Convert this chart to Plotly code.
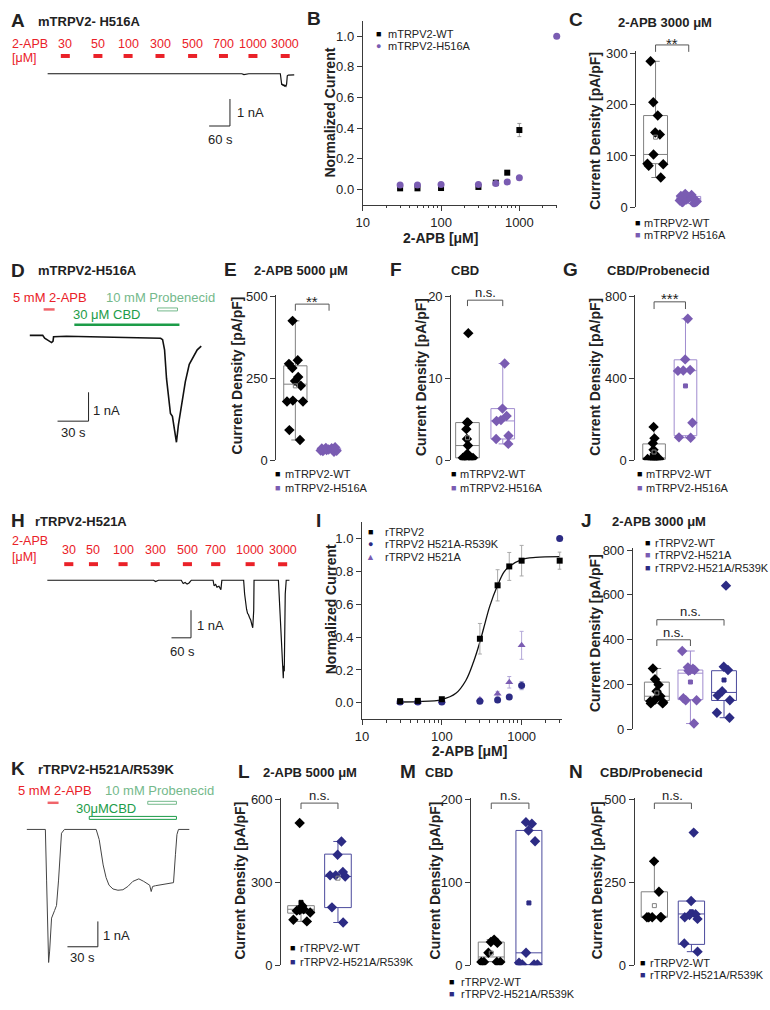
import numpy as np
import plotly.graph_objects as go

W, H = 770, 1010
FONT = "Arial, Liberation Sans, Helvetica, sans-serif"
RED = "#ea2128"
GREEN = "#1c9c48"
LGREEN = "#74b98b"
PURPLE = "#7a5cb2"
PURPLE_LINE = "#a08ccf"
NAVY = "#2c2b84"
NAVY_LINE = "#4b4a9c"
GRAY_LINE = "#808080"
AXIS = "#3a3a3a"
TXT = "#222222"

# ============================ DATA ============================
conc_labels = ["30", "50", "100", "300", "500", "700", "1000", "3000"]
conc_uM = [30, 50, 100, 300, 500, 700, 1000, 3000]
log_minor = [20, 30, 40, 50, 60, 70, 80, 90, 200, 300, 400, 500, 600, 700, 800, 900, 2000, 3000]

# A: mTRPV2-H516A whole-cell trace (time s, current nA)
A_time = [0, 560, 566, 572, 580, 671, 673, 675, 677, 679, 681, 683, 685, 687, 689, 691, 694, 711]
A_curr = [0, 0, -0.03, -0.02, 0, 0, -0.32, -0.42, -0.38, -0.45, -0.40, -0.48, -0.44, -0.47, -0.40, -0.08, -0.05, -0.04]
A_app_start = [38, 132, 219, 311, 405, 494, 579, 672]
A_app_dur = 26

# B: normalized concentration-response
B_wt = [0.008, 0.008, 0.01, 0.017, 0.045, 0.11, 0.388, None]
B_wt_err = [0.003, 0.003, 0.003, 0.004, 0.006, 0.012, 0.043, None]
B_mut = [0.03, 0.03, 0.033, 0.033, 0.04, 0.05, 0.077, 1.0]
B_mut_err = [0.003, 0.003, 0.003, 0.003, 0.004, 0.005, 0.006, 0.004]

# C: 2-APB 3000 uM current densities (pA/pF); box = [q1, median, q3, lower, upper]
C_wt = [285, 205, 179, 146, 142, 103, 85, 84, 81, 58]
C_wt_box = [85, 103, 179, 58, 285]
C_mut = [26, 24, 22, 20, 19, 18, 16, 15, 13, 11, 9, 7]
C_mut_box = [12, 17, 21, 7, 26]

# D: mTRPV2-H516A trace (s, nA) and applications (s)
D_time = [0, 12.5, 14.4, 16.3, 18.2, 20.1, 21.1, 22.5, 23.0, 35.5, 73.8, 112.2, 126.6, 128.5, 130.4,
          132.3, 134.2, 136.1, 138.0, 140.0, 141.9, 143.8, 146.6, 150.5, 154.3, 158.2, 162.0, 165.9]
D_curr = [0, 0, -0.1, -0.15, -0.2, -0.22, -0.25, -0.2, -0.05, -0.03, -0.05, -0.07, -0.1, -0.15, -0.5,
          -1.5, -2.2, -2.7, -2.8, -3.2, -3.7, -3.1, -2.5, -1.6, -1.0, -0.75, -0.5, -0.37]
D_apb = [13.4, 24.0]
D_cbd = [43.1, 144.8]
D_prob = [123.7, 142.9]

# E: 2-APB 5000 uM
E_wt = [425, 305, 294, 281, 254, 242, 227, 179, 179, 182, 92, 62]
E_wt_box = [182, 232, 288, 62, 425]
E_mut = [40, 38, 37, 36, 35, 34, 33, 32, 31, 30, 29, 28, 26]
E_mut_box = [29, 33, 37, 26, 40]

# F: CBD
F_wt = [15.5, 4.6, 4.6, 3.8, 2.6, 1.8, 0.8, 0.5, 0.3, 0.3, 0.3, 0.3, 0.3]
F_wt_box = [0.3, 1.8, 4.6, 0.3, 4.6]
F_mut = [11.8, 6.3, 5.4, 4.9, 4.8, 3.0, 2.6, 2.0]
F_mut_box = [2.6, 4.8, 6.3, 2.0, 11.8]

# G: CBD/Probenecid
G_wt = [163, 107, 83, 51, 31, 7, 7, 7, 7, 7, 7, 7]
G_wt_box = [5, 12, 80, 5, 163]
G_mut = [690, 492, 440, 438, 436, 183, 112, 110]
G_mut_box = [120, 437, 490, 110, 690]

# H: rTRPV2-H521A trace (s, nA)
H_time = [0, 327, 333, 342, 412, 418, 424, 430, 436, 440, 443, 510, 513, 518, 522, 528, 534, 537,
          604, 607, 610, 613, 616, 619, 622, 626, 629, 632, 635, 636,
          711, 714, 717, 720, 723, 725, 726, 727, 729, 732, 735, 745]
H_curr = [0, 0, -0.05, 0, 0, -0.12, -0.08, -0.14, -0.1, -0.05, 0, 0, -0.2, -0.15, -0.25, -0.22, -0.34, 0,
          0, -0.5, -0.9, -1.05, -1.2, -1.25, -1.35, -1.45, -1.6, -1.72, -1.1, 0,
          0, -0.7, -1.5, -2.2, -2.6, -3.0, -3.55, -3.1, -3.3, -0.5, 0, 0]
H_app_start = [52, 128, 219, 318, 417, 504, 610, 710]
H_app_dur = 28

# I: normalized concentration-response (rat)
I_wt = [0.01, 0.012, 0.022, 0.39, 0.715, 0.83, 0.865, 0.865]
I_wt_err = [0.005, 0.005, 0.005, 0.093, 0.095, 0.085, 0.093, 0.052]
I_rk = [0.005, 0.005, 0.005, 0.01, 0.018, 0.035, 0.105, 1.0]
I_rk_err = [0.003, 0.003, 0.003, 0.004, 0.005, 0.006, 0.025, 0.01]
I_ha = [0.005, 0.005, 0.01, 0.02, 0.055, 0.125, 0.35, None]
I_ha_err = [0.003, 0.003, 0.004, 0.01, 0.015, 0.035, 0.085, None]
I_fit_conc = [30, 50, 100, 150, 200, 250, 300, 350, 400, 500, 600, 700, 1000, 1500, 3000]
I_fit_val = [0.005, 0.007, 0.02, 0.058, 0.136, 0.25, 0.37, 0.49, 0.59, 0.715, 0.795, 0.83, 0.872, 0.885, 0.89]

# J: 2-APB 3000 uM (rat)
J_wt = [271, 223, 198, 169, 147, 132, 125, 120, 115, 115]
J_wt_box = [128, 147, 210, 115, 271]
J_h = [349, 276, 270, 264, 264, 261, 138, 129, 129, 25]
J_h_box = [132, 250, 264, 25, 349]
J_r = [641, 279, 264, 169, 150, 129, 73, 51]
J_r_box = [128, 164, 261, 51, 279]

# K: rTRPV2-H521A/R539K trace (s, nA)
K_time = [0, 18.3, 19.5, 20.5, 21.5, 22.5, 24.4, 27.4, 29.3, 31.3, 33.2, 34.2, 37.1, 68.4, 71.4, 75.3,
          78.2, 81.1, 85.0, 89.9, 94.8, 99.7, 104.6, 110.5, 115.3, 121.2, 122.7, 124.1, 127.0, 136.9,
          144.7, 146.6, 148.1, 149.6, 160.3]
K_curr = [0, 0, -2.0, -4.0, -5.25, -4.8, -3.5, -3.2, -3.0, -2.0, -0.5, -0.15, 0, 0, -0.4, -1.4,
          -1.9, -2.2, -2.35, -2.4, -2.38, -2.25, -2.05, -1.95, -2.05, -2.2, -2.45, -2.25, -2.22, -2.15,
          -2.1, -1.0, -0.2, 0, 0]
K_apb = [20.5, 31.3]
K_cbd = [61.6, 147.6]
K_prob = [119.3, 147.6]

# L: 2-APB 5000 uM (rat)
L_wt = [516, 215, 206, 203, 200, 198, 191, 165, 159]
L_wt_box = [189, 203, 216, 159, 216]
L_r = [449, 401, 338, 326, 326, 322, 210, 155]
L_r_box = [209, 322, 403, 155, 449]

# M: CBD (rat)
M_wt = [31, 28, 27, 15, 4, 4, 4, 4]
M_wt_box = [4.4, 10, 28, 4.4, 31]
M_r = [173, 171, 163, 150, 15, 3, 1, 1, 1]
M_r_box = [0.5, 15, 163, 0.5, 173]

# N: CBD/Probenecid (rat)
N_wt = [314, 222, 145, 145, 145, 145, 145]
N_wt_box = [145, 145, 222, 145, 314]
N_r = [401, 194, 154, 152, 145, 140, 66, 41]
N_r_box = [63, 155, 194, 41, 194]

# ============================ FIGURE ============================
fig = go.Figure()
layout = dict(width=W, height=H, autosize=False, margin=dict(l=0, r=0, t=0, b=0),
              paper_bgcolor="white", plot_bgcolor="white", showlegend=False,
              font=dict(family=FONT, size=13, color=TXT))
shapes = []
annotations = []


def fx(x):
    return x / W


def fy(y):
    return 1 - y / H


def k_(n):
    return "" if n == 1 else str(n)


def txt(s, x, y, size=13, color=TXT, bold=False, xanchor="left", angle=0, xref="paper"):
    annotations.append(dict(text=f"<b>{s}</b>" if bold else s,
                            x=fx(x) if xref == "paper" else x, y=fy(y),
                            xref=xref, yref="paper", xanchor=xanchor, yanchor="middle",
                            showarrow=False, textangle=angle, borderpad=0,
                            font=dict(size=size, color=color, family=FONT)))


def pline(x0, y0, x1, y1, color=AXIS, width=1):
    shapes.append(dict(type="line", xref="paper", yref="paper", x0=fx(x0), y0=fy(y0),
                       x1=fx(x1), y1=fy(y1), line=dict(color=color, width=width)))


def trace_axes(n, box, t0px, i0px, px_per_s, px_per_nA):
    l, r, t, b = box
    xr = [(l - t0px) / px_per_s, (r - t0px) / px_per_s]
    yr = [(i0px - b) / px_per_nA, (i0px - t) / px_per_nA]
    layout["xaxis" + k_(n)] = dict(domain=[fx(l), fx(r)], range=xr, visible=False,
                                   anchor="y" + k_(n), fixedrange=True)
    layout["yaxis" + k_(n)] = dict(domain=[fy(b), fy(t)], range=yr, visible=False,
                                   anchor="x" + k_(n), fixedrange=True)


def yaxis_style(**kw):
    d = dict(showline=True, linecolor=AXIS, linewidth=1, ticks="outside", ticklen=5,
             tickwidth=1, tickcolor=AXIS, showgrid=False, zeroline=False,
             tickfont=dict(size=13, color=TXT, family=FONT), fixedrange=True)
    d.update(kw)
    return d


def log_xaxis(l, r, rng, anchor):
    return dict(domain=[fx(l), fx(r)], type="log", range=rng, anchor=anchor,
                showline=True, linecolor=AXIS, linewidth=1, ticks="outside", ticklen=5,
                tickcolor=AXIS, tickvals=[10, 100, 1000], ticktext=["10", "100", "1000"],
                tickfont=dict(size=13, color=TXT, family=FONT), showgrid=False,
                zeroline=False, fixedrange=True,
                minor=dict(tickmode="array", tickvals=log_minor, ticks="outside", ticklen=2.5,
                           tickcolor=AXIS, showgrid=False))


def box_axes(n, left, c0, unit, right, y0px, ppu, ymax, tickvals):
    top = y0px - ppu * ymax
    layout["xaxis" + k_(n)] = dict(domain=[fx(left), fx(right)],
                                   range=[(left - c0) / unit, (right - c0) / unit],
                                   visible=False, anchor="y" + k_(n), fixedrange=True)
    layout["yaxis" + k_(n)] = yaxis_style(domain=[fy(y0px), fy(top)], range=[0, ymax],
                                          tickvals=tickvals, anchor="x" + k_(n))


def add_group(n, k, vals, stats, pt_color, line_color, bw, mean_open=False):
    xa, ya = "x" + k_(n), "y" + k_(n)
    fig.add_trace(go.Box(x=[k], q1=[stats[0]], median=[stats[1]], q3=[stats[2]],
                         lowerfence=[stats[3]], upperfence=[stats[4]], width=bw,
                         boxpoints=False, whiskerwidth=0.35, fillcolor="rgba(0,0,0,0)",
                         line=dict(color=line_color, width=1), xaxis=xa, yaxis=ya,
                         hoverinfo="skip"))
    fig.add_trace(go.Box(x=[k] * len(vals), y=vals, width=bw, boxpoints="all", jitter=0.9,
                         pointpos=0, fillcolor="rgba(0,0,0,0)",
                         line=dict(color="rgba(0,0,0,0)", width=0),
                         marker=dict(symbol="diamond", size=8, color=pt_color),
                         xaxis=xa, yaxis=ya))
    fig.add_trace(go.Scatter(x=[k], y=[float(np.mean(vals))], mode="markers",
                             marker=dict(symbol="square-open" if mean_open else "square",
                                         size=4, color=GRAY_LINE if mean_open else pt_color,
                                         line=dict(width=1, color=GRAY_LINE if mean_open else pt_color)),
                             xaxis=xa, yaxis=ya, cliponaxis=False))


def bracket(n, k1, k2, ypx, drop, label, label_y, size=13):
    xr = "x" + k_(n)
    for (a, b, c, d) in [(k1, ypx + drop, k1, ypx), (k1, ypx, k2, ypx), (k2, ypx, k2, ypx + drop)]:
        shapes.append(dict(type="line", xref=xr, yref="paper", x0=a, y0=fy(b), x1=c, y1=fy(d),
                           line=dict(color="#555555", width=1)))
    annotations.append(dict(text=label, x=(k1 + k2) / 2, y=fy(label_y), xref=xr, yref="paper",
                            xanchor="center", yanchor="middle", showarrow=False,
                            font=dict(size=size, color=TXT, family=FONT)))


def legend(entries, size=11):
    for (mx, my, sym, col, tx, label) in entries:
        annotations.append(dict(text=sym, x=fx(mx), y=fy(my), xref="paper", yref="paper",
                                xanchor="center", yanchor="middle", showarrow=False,
                                font=dict(size=9, color=col, family=FONT)))
        txt(label, tx, my, size=size)


def scalebar(xv, ytop, ybot, xleft, lab1, lab1x, lab1y, lab2, lab2x, lab2y):
    pline(xv, ytop, xv, ybot, color="#222", width=1)
    pline(xleft, ybot, xv, ybot, color="#222", width=1)
    txt(lab1, lab1x, lab1y, size=13)
    txt(lab2, lab2x, lab2y, size=13, xanchor="center")


def app_bar(n, t0, t1, ypx, color, hollow=False, h=3.5):
    xr = "x" + k_(n)
    shapes.append(dict(type="rect", xref=xr, yref="paper", x0=t0, x1=t1,
                       y0=fy(ypx + h / 2), y1=fy(ypx - h / 2),
                       line=dict(color=color, width=1 if hollow else 0),
                       fillcolor="white" if hollow else color))


# ---------------- Panel A ----------------
trace_axes(1, (0, 300, 20, 140), 41, 68.7, 0.35, 27)
fig.add_trace(go.Scatter(x=A_time, y=A_curr, mode="lines", line=dict(color="#111", width=1.2),
                         xaxis="x", yaxis="y"))
for t0, lab in zip(A_app_start, conc_labels):
    app_bar(1, t0, t0 + A_app_dur, 50.7, RED, h=4)
    annotations.append(dict(text=lab, x=t0 + A_app_dur / 2, y=fy(38.7), xref="x", yref="paper",
                            xanchor="center", yanchor="middle", showarrow=False,
                            font=dict(size=12.5, color=RED, family=FONT)))
txt("2-APB", 4, 38.7, size=12.5, color=RED)
txt("[μM]", 4, 53, size=12.5, color=RED)
scalebar(225, 94.3, 121.7, 204, "1 nA", 231, 108, "60 s", 215, 135)
txt("A", 3, 15, size=19, bold=True)
txt("mTRPV2- H516A", 30, 16, size=13, bold=True)

# ---------------- Panel B ----------------
layout["xaxis2"] = log_xaxis(359, 555, [1, 3.48], "y2")
layout["yaxis2"] = yaxis_style(domain=[fy(201.7), fy(15)], range=[-0.1, 1.1],
                               tickvals=[0, 0.2, 0.4, 0.6, 0.8, 1.0], tickformat=".1f", anchor="x2")
fig.add_trace(go.Scatter(x=conc_uM, y=B_wt, mode="markers", cliponaxis=False,
                         error_y=dict(array=B_wt_err, color="#999", thickness=1, width=2),
                         marker=dict(symbol="square", size=6, color="black"), xaxis="x2", yaxis="y2"))
fig.add_trace(go.Scatter(x=conc_uM, y=B_mut, mode="markers", cliponaxis=False,
                         error_y=dict(array=B_mut_err, color="#b0a4d6", thickness=1, width=2),
                         marker=dict(symbol="circle", size=7, color=PURPLE), xaxis="x2", yaxis="y2"))
txt("Normalized Current", 325, 108, size=14, bold=True, xanchor="center", angle=-90)
txt("2-APB [μM]", 437, 235, size=14, bold=True, xanchor="center")
legend([(375, 28.7, "■", "black", 383, "mTRPV2-WT"),
        (375, 41, "●", PURPLE, 383, "mTRPV2-H516A")])
txt("B", 302, 13, size=19, bold=True)

# ---------------- Panel C ----------------
box_axes(3, 635, 654.5, 33.5, 710, 204, 0.519, 305, [0, 100, 200, 300])
add_group(3, 0, C_wt, C_wt_box, "black", GRAY_LINE, 0.72, mean_open=True)
add_group(3, 1, C_mut, C_mut_box, PURPLE, PURPLE_LINE, 0.72)
bracket(3, 0, 1, 39.5, 7, "**", 38, size=15)
txt("Current Density [pA/pF]", 594, 127, size=14, bold=True, xanchor="center", angle=-90)
legend([(636, 220, "■", "black", 642, "mTRPV2-WT"),
        (636, 232, "■", PURPLE, 642, "mTRPV2 H516A")])
txt("C", 566, 14, size=19, bold=True)
txt("2-APB 3000 μM", 664, 17, size=13, bold=True, xanchor="center")

# ---------------- Panel D ----------------
trace_axes(4, (0, 210, 285, 450), 23, 334, 1.043, 29.3)
fig.add_trace(go.Scatter(x=D_time, y=D_curr, mode="lines", line=dict(color="#111", width=1.6),
                         xaxis="x4", yaxis="y4"))
app_bar(4, D_apb[0], D_apb[1], 307.7, "#f0646a", h=2.5)
app_bar(4, D_prob[0], D_prob[1], 307.7, LGREEN, hollow=True, h=3)
app_bar(4, D_cbd[0], D_cbd[1], 323.3, GREEN, h=2.5)
txt("5 mM 2-APB", 43.5, 295.7, color=RED, xanchor="center")
txt("10 mM Probenecid", 154.5, 295.7, color=LGREEN, xanchor="center")
txt("30 μM CBD", 100, 313, color=GREEN, xanchor="center")
scalebar(82.3, 391.7, 421, 51, "1 nA", 86, 410, "30 s", 67, 433)
txt("D", 3, 268, size=19, bold=True)
txt("mTRPV2-H516A", 30, 268, size=13, bold=True)

# ---------------- Panel E ----------------
box_axes(5, 271.7, 291, 34, 345, 460.7, 0.3328, 505, [0, 250, 500])
add_group(5, 0, E_wt, E_wt_box, "black", GRAY_LINE, 0.69, mean_open=True)
add_group(5, 1, E_mut, E_mut_box, PURPLE, PURPLE_LINE, 0.69)
bracket(5, 0, 1, 302.3, 6.7, "**", 300, size=15)
txt("Current Density [pA/pF]", 231.7, 375, size=14, bold=True, xanchor="center", angle=-90)
legend([(273.3, 475, "■", "black", 280, "mTRPV2-WT"),
        (273.3, 488.3, "■", PURPLE, 280, "mTRPV2-H516A")])
txt("E", 218, 267, size=19, bold=True)
txt("2-APB 5000 μM", 297, 268, size=13, bold=True, xanchor="center")

# ---------------- Panel F ----------------
box_axes(6, 448.3, 464.7, 35.6, 520, 460.7, 8.32, 20.2, [0, 10, 20])
add_group(6, 0, F_wt, F_wt_box, "black", GRAY_LINE, 0.67, mean_open=True)
add_group(6, 1, F_mut, F_mut_box, PURPLE, PURPLE_LINE, 0.67)
bracket(6, 0, 1, 298.3, 6, "n.s.", 291)
txt("Current Density [pA/pF]", 418, 376, size=14, bold=True, xanchor="center", angle=-90)
legend([(450.7, 475, "■", "black", 456.5, "mTRPV2-WT"),
        (450.7, 488.3, "■", PURPLE, 456.5, "mTRPV2-H516A")])
txt("F", 386, 267, size=19, bold=True)
txt("CBD", 462, 268, size=13, bold=True, xanchor="center")

# ---------------- Panel G ----------------
box_axes(7, 634, 653, 31.7, 705, 460.7, 0.208, 808, [0, 400, 800])
add_group(7, 0, G_wt, G_wt_box, "black", GRAY_LINE, 0.72, mean_open=True)
add_group(7, 1, G_mut, G_mut_box, PURPLE, PURPLE_LINE, 0.72)
bracket(7, 0, 1, 300, 7.3, "***", 297, size=15)
txt("Current Density [pA/pF]", 593.3, 376, size=14, bold=True, xanchor="center", angle=-90)
legend([(638.3, 475, "■", "black", 644, "mTRPV2-WT"),
        (638.3, 488.3, "■", PURPLE, 644, "mTRPV2-H516A")])
txt("G", 560, 267, size=19, bold=True)
txt("CBD/Probenecid", 657, 268, size=13, bold=True, xanchor="center")

# ---------------- Panel H ----------------
trace_axes(8, (0, 300, 530, 690), 40.7, 582.3, 0.328, 28)
fig.add_trace(go.Scatter(x=H_time, y=H_curr, mode="lines", line=dict(color="#111", width=1.2),
                         xaxis="x8", yaxis="y8"))
for t0, lab in zip(H_app_start, conc_labels):
    app_bar(8, t0, t0 + H_app_dur, 566, RED, h=4)
    annotations.append(dict(text=lab, x=t0 + H_app_dur / 2, y=fy(551.7), xref="x8", yref="paper",
                            xanchor="center", yanchor="middle", showarrow=False,
                            font=dict(size=12.5, color=RED, family=FONT)))
txt("2-APB", 4, 543, size=12.5, color=RED)
txt("[μM]", 4, 559, size=12.5, color=RED)
scalebar(185.7, 612.7, 640.7, 166, "1 nA", 191, 628, "60 s", 177, 655)
txt("H", 3, 522, size=19, bold=True)
txt("rTRPV2-H521A", 27, 523, size=13, bold=True)

# ---------------- Panel I ----------------
layout["xaxis9"] = log_xaxis(358.3, 559.6, [1, 3.5], "y9")
layout["yaxis9"] = yaxis_style(domain=[fy(723.3), fy(523.3)], range=[-0.1, 1.1],
                               tickvals=[0, 0.2, 0.4, 0.6, 0.8, 1.0], tickformat=".1f", anchor="x9")
fig.add_trace(go.Scatter(x=I_fit_conc, y=I_fit_val, mode="lines",
                         line=dict(color="#111", width=1.3, shape="spline"),
                         xaxis="x9", yaxis="y9"))
fig.add_trace(go.Scatter(x=conc_uM, y=I_ha, mode="markers", cliponaxis=False,
                         error_y=dict(array=I_ha_err, color="#b3a8d8", thickness=1, width=2),
                         marker=dict(symbol="triangle-up", size=7, color=PURPLE), xaxis="x9", yaxis="y9"))
fig.add_trace(go.Scatter(x=conc_uM, y=I_rk, mode="markers", cliponaxis=False,
                         error_y=dict(array=I_rk_err, color="#9c9cc8", thickness=1, width=2),
                         marker=dict(symbol="circle", size=7, color=NAVY), xaxis="x9", yaxis="y9"))
fig.add_trace(go.Scatter(x=conc_uM, y=I_wt, mode="markers", cliponaxis=False,
                         error_y=dict(array=I_wt_err, color="#aaaaaa", thickness=1, width=2),
                         marker=dict(symbol="square", size=6, color="black"), xaxis="x9", yaxis="y9"))
txt("Normalized Current", 326.7, 612, size=14, bold=True, xanchor="center", angle=-90)
txt("2-APB [μM]", 466.7, 755, size=14, bold=True, xanchor="center")
legend([(366.7, 533.3, "■", "black", 380, "rTRPV2"),
        (366.7, 546, "●", NAVY, 380, "rTRPV2 H521A-R539K"),
        (366.7, 558.3, "▲", PURPLE, 380, "rTRPV2 H521A")])
txt("I", 311, 522, size=19, bold=True)

# ---------------- Panel J ----------------
box_axes(10, 631.7, 655.8, 33.9, 750, 733.3, 0.227, 810, [0, 200, 400, 600, 800])
add_group(10, 0, J_wt, J_wt_box, "black", GRAY_LINE, 0.74, mean_open=True)
add_group(10, 1, J_h, J_h_box, PURPLE, PURPLE_LINE, 0.74)
add_group(10, 2, J_r, J_r_box, NAVY, NAVY_LINE, 0.74)
bracket(10, 0, 2, 622.3, 6, "n.s.", 614)
bracket(10, 0, 1, 642.7, 6.3, "n.s.", 635)
txt("Current Density [pA/pF]", 593.3, 636, size=14, bold=True, xanchor="center", angle=-90)
legend([(646, 544.3, "■", "black", 653.3, "rTRPV2-WT"),
        (646, 556.7, "■", PURPLE, 653.3, "rTRPV2-H521A"),
        (646, 570, "■", NAVY, 653.3, "rTRPV2-H521A/R539K")])
txt("J", 578, 522, size=19, bold=True)
txt("2-APB 3000 μM", 658, 523, size=13, bold=True, xanchor="center")

# ---------------- Panel K ----------------
trace_axes(11, (0, 210, 785, 985), 20, 835, 1.023, 25.7)
fig.add_trace(go.Scatter(x=K_time, y=K_curr, mode="lines", line=dict(color="#444", width=1),
                         xaxis="x11", yaxis="y11"))
app_bar(11, K_apb[0], K_apb[1], 808, "#f0646a", h=2.5)
app_bar(11, K_prob[0], K_prob[1], 808, LGREEN, hollow=True, h=3)
app_bar(11, K_cbd[0], K_cbd[1], 823.3, GREEN, hollow=True, h=3)
txt("5 mM 2-APB", 48, 796, color=RED, xanchor="center")
txt("10 mM Probenecid", 154, 796, color=LGREEN, xanchor="center")
txt("30μMCBD", 100, 814, color=GREEN, xanchor="center")
scalebar(91.7, 928.3, 954, 61, "1 nA", 96, 943, "30 s", 76, 965)
txt("K", 3, 773, size=19, bold=True)
txt("rTRPV2-H521A/R539K", 30, 774, size=13, bold=True)

# ---------------- Panel L ----------------
box_axes(12, 276.7, 296.7, 37.3, 360, 972.7, 0.2795, 606, [0, 300, 600])
add_group(12, 0, L_wt, L_wt_box, "black", GRAY_LINE, 0.72)
add_group(12, 1, L_r, L_r_box, NAVY, NAVY_LINE, 0.72, mean_open=True)
bracket(12, 0, 1, 808.3, 6, "n.s.", 801)
txt("Current Density [pA/pF]", 235, 887, size=14, bold=True, xanchor="center", angle=-90)
legend([(288.3, 955, "■", "black", 295, "rTRPV2-WT"),
        (288.3, 969, "■", NAVY, 295, "rTRPV2-H521A/R539K")])
txt("L", 232, 776, size=19, bold=True)
txt("2-APB 5000 μM", 306, 777, size=13, bold=True, xanchor="center")

# ---------------- Panel M ----------------
box_axes(13, 468.3, 488.7, 38, 550, 972.7, 0.8385, 202, [0, 100, 200])
add_group(13, 0, M_wt, M_wt_box, "black", GRAY_LINE, 0.69, mean_open=True)
add_group(13, 1, M_r, M_r_box, NAVY, NAVY_LINE, 0.69)
bracket(13, 0, 1, 808.3, 6, "n.s.", 801)
txt("Current Density [pA/pF]", 431.7, 887, size=14, bold=True, xanchor="center", angle=-90)
legend([(448.3, 990, "■", "black", 456.7, "rTRPV2-WT"),
        (448.3, 1001.7, "■", NAVY, 456.7, "rTRPV2-H521A/R539K")])
txt("M", 396, 776, size=19, bold=True)
txt("CBD", 436, 777, size=13, bold=True, xanchor="center")

# ---------------- Panel N ----------------
box_axes(14, 633.3, 653.3, 37.4, 715, 972.7, 0.3354, 505, [0, 250, 500])
add_group(14, 0, N_wt, N_wt_box, "black", GRAY_LINE, 0.71, mean_open=True)
add_group(14, 1, N_r, N_r_box, NAVY, NAVY_LINE, 0.71)
bracket(14, 0, 1, 808.3, 6, "n.s.", 801)
txt("Current Density [pA/pF]", 595, 887, size=14, bold=True, xanchor="center", angle=-90)
legend([(641.7, 970, "■", "black", 648.3, "rTRPV2-WT"),
        (641.7, 982.7, "■", NAVY, 648.3, "rTRPV2-H521A/R539K")])
txt("N", 566, 776, size=19, bold=True)
txt("CBD/Probenecid", 650, 777, size=13, bold=True, xanchor="center")

layout["shapes"] = shapes
layout["annotations"] = annotations
layout["boxmode"] = "overlay"
fig.update_layout(**layout)
fig.write_html("out.html", config={"displayModeBar": False})
